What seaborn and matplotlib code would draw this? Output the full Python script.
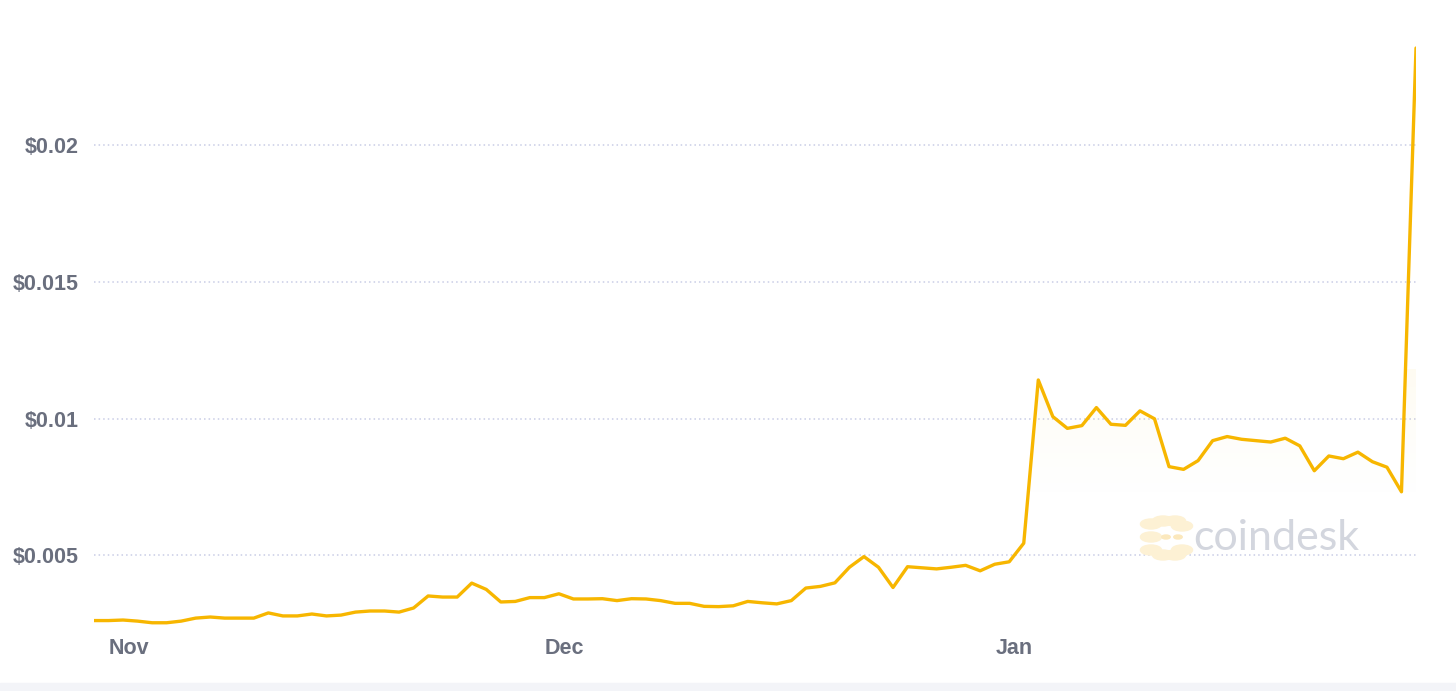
import numpy as np
import pandas as pd
import seaborn as sns
import matplotlib.pyplot as plt
import matplotlib.dates as mdates
from matplotlib.patches import Rectangle, Circle

# daily prices, Oct 29 2020 -> Jan 28 2021
prices = [
    0.00262, 0.00262, 0.00264, 0.00260, 0.00254, 0.00254, 0.00260, 0.00271,
    0.00275, 0.00271, 0.00271, 0.00271, 0.00290, 0.00279, 0.00279, 0.00286,
    0.00279, 0.00282, 0.00293, 0.00297, 0.00297, 0.00293, 0.00308, 0.00352,
    0.00348, 0.00348, 0.00399, 0.00376, 0.00330, 0.00332, 0.00346, 0.00346,
    0.00360, 0.00341, 0.00341, 0.00342, 0.00335, 0.00342, 0.00341, 0.00335,
    0.00325, 0.00325, 0.00314, 0.00313, 0.00316, 0.00332, 0.00327, 0.00323,
    0.00335, 0.00381, 0.00387, 0.00400, 0.00457, 0.00496, 0.00457, 0.00383,
    0.00459, 0.00455, 0.00451, 0.00457, 0.00464, 0.00444, 0.00468, 0.00477,
    0.00545, 0.01142, 0.01008, 0.00965, 0.00975, 0.01041, 0.00980, 0.00976,
    0.01029, 0.01000, 0.00825, 0.00815, 0.00847, 0.00920, 0.00935, 0.00925,
    0.00920, 0.00915, 0.00929, 0.00901, 0.00810, 0.00864, 0.00854, 0.00878,
    0.00843, 0.00823, 0.00733, 0.02356,
]
dates = pd.date_range("2020-10-29 15:00", periods=len(prices), freq="D")
tick_dates = pd.to_datetime(["2020-11-01", "2020-12-01", "2021-01-01"])
tick_labels = ["Nov", "Dec", "Jan"]
y_ticks = [0.005, 0.01, 0.015, 0.02]
y_labels = ["$0.005", "$0.01", "$0.015", "$0.02"]

df = pd.DataFrame({"date": dates, "price": prices})

sns.set_style("white")
plt.rcParams['font.family'] = ['Liberation Sans', 'DejaVu Sans']

line_color = "#f7b600"
text_color = "#6a6f7e"
ylim = (0.002458, 0.02422)

fig = plt.figure(figsize=(14.56, 6.91), dpi=100)
ax = fig.add_axes([94 / 1456, 66 / 691, 1322 / 1456, 595 / 691])

# dotted grid lines
for v in y_ticks:
    ax.axhline(v, color="#c9cde6", lw=1.1, ls=(0, (1, 2)), zorder=1)

# faint gradient fill under the line (fades out around $0.007)
poly = ax.fill_between(df["date"], df["price"], 0, color="none", lw=0)
grad = np.linspace(0, 1, 256).reshape(-1, 1)
rgba = np.zeros((256, 1, 4))
rgba[..., :3] = [0.98, 0.82, 0.35]
rgba[..., 3] = grad[..., 0:1] ** 1.3 * 0.08
x0, x1 = mdates.date2num(dates[0]), mdates.date2num(dates[-1])
img = ax.imshow(rgba, extent=[x0, x1, 0.0068, 0.0118], origin="lower",
                aspect="auto", zorder=1.5)
img.set_clip_path(poly.get_paths()[0], transform=ax.transData)

sns.lineplot(data=df, x="date", y="price", color=line_color, lw=2.4,
             ax=ax, zorder=3)

ax.set_xlim(dates[0], dates[-1])
ax.set_ylim(*ylim)
ax.set_yticks(y_ticks)
ax.set_yticklabels(y_labels)
ax.set_xticks(tick_dates)
ax.set_xticklabels(tick_labels)
ax.tick_params(axis="both", length=0, labelsize=15.5, labelcolor=text_color)
ax.tick_params(axis="y", pad=11)
ax.tick_params(axis="x", pad=9)
for lab in ax.get_xticklabels() + ax.get_yticklabels():
    lab.set_fontweight("bold")
ax.set_xlabel("")
ax.set_ylabel("")
for s in ax.spines.values():
    s.set_visible(False)

# watermark
fig.text(1193 / 1456, 1 - 538 / 691, "coindesk", fontsize=31, color="#d3d6de",
         family=["Lato", "DejaVu Sans"], va="center", ha="left", zorder=0)
for cx, cy in [(1151, 524), (1163, 521), (1175, 521), (1182, 526),
               (1151, 537), (1151, 550), (1163, 555), (1175, 555),
               (1182, 550)]:
    fig.patches.append(Circle((cx / 1456, 1 - cy / 691), 5 / 691,
                              transform=fig.transFigure, color="#fdf1d4",
                              zorder=0))
for cx, cy in [(1166, 537), (1178, 537)]:
    fig.patches.append(Circle((cx / 1456, 1 - cy / 691), 2 / 691,
                              transform=fig.transFigure, color="#fbe8bd",
                              zorder=0))

# bottom band
fig.patches.append(Rectangle((0, 0), 1, 8 / 691, transform=fig.transFigure,
                             color="#f3f4f8", zorder=0))

fig.savefig("out.png", dpi=100)
